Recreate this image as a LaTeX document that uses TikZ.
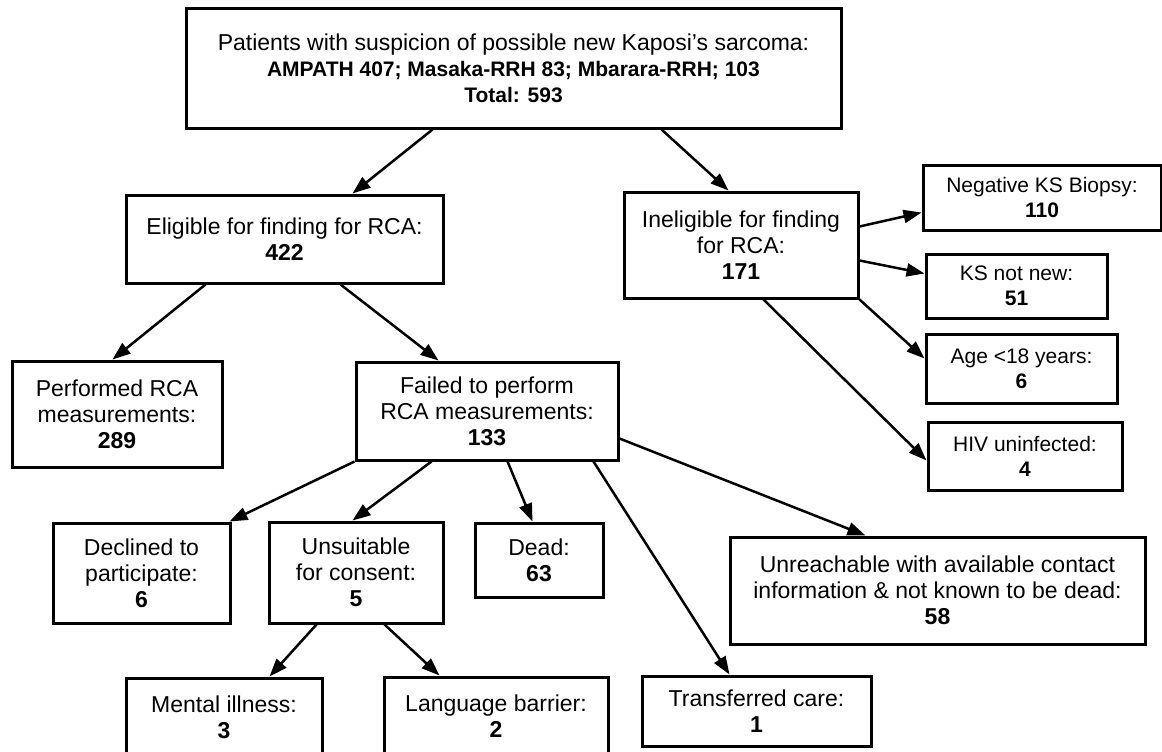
\documentclass[tikz,border=0pt]{standalone}
\usepackage{fontspec}
\setmainfont{Liberation Sans}
\usetikzlibrary{arrows.meta}
\usetikzlibrary{calc}

\begin{document}
\begin{tikzpicture}[x=1pt,y=-1pt]
        \tikzset{flow_box/.style = {draw,line width=3pt,inner sep=0pt,align=center,font=\fontsize{23}{26}\selectfont}}
        \tikzset{side_box/.style = {flow_box,font=\fontsize{21}{25}\selectfont}}
        \tikzset{flow_edge/.style = {->,> = {Triangle[length=18pt,width=13pt]},line width=2.5pt,color=black}}

        \useasboundingbox (0,0) rectangle (1162,752);

        % screening
        \node[flow_box,minimum width=655pt,minimum height=119pt] (top) at (513.5,68.5)
            {Patients with suspicion of possible new Kaposi’s sarcoma:\\{\bfseries\fontsize{21}{26}\selectfont AMPATH 407; Masaka-RRH 83; Mbarara-RRH; 103}\\{\bfseries\fontsize{21}{26}\selectfont Total: 593}};
        \node[flow_box,minimum width=317pt,minimum height=88pt] (elig) at (284.5,239) {Eligible for finding for RCA:\\\textbf{422}};
        \node[flow_box,minimum width=234pt,minimum height=106pt] (inelig) at (741,245) {Ineligible for finding\\for RCA:\\\textbf{171}};

        % reasons for ineligibility
        \node[side_box,minimum width=238pt,minimum height=65pt] (negks) at (1042,197.5) {Negative KS Biopsy:\\\textbf{110}};
        \node[side_box,minimum width=181pt,minimum height=64pt] (notnew) at (1016.5,286) {KS not new:\\\textbf{51}};
        \node[side_box,minimum width=191pt,minimum height=69pt] (age) at (1021.5,368.5) {Age <18 years:\\\textbf{6}};
        \node[side_box,minimum width=194pt,minimum height=68pt] (hiv) at (1025,456) {HIV uninfected:\\\textbf{4}};

        % RCA measurements
        \node[flow_box,minimum width=210pt,minimum height=106pt] (perf) at (117,414) {Performed RCA\\measurements:\\\textbf{289}};
        \node[flow_box,minimum width=262pt,minimum height=98pt] (fail) at (487,411) {Failed to perform\\RCA measurements:\\\textbf{133}};

        % reasons for failure
        \node[flow_box,minimum width=177pt,minimum height=100pt] (decl) at (141.5,573) {Declined to\\participate:\\\textbf{6}};
        \node[flow_box,minimum width=174pt,minimum height=101pt] (unsuit) at (356,572.5) {Unsuitable\\for consent:\\\textbf{5}};
        \node[flow_box,minimum width=128pt,minimum height=74pt] (dead) at (539,560) {Dead:\\\textbf{63}};
        \node[flow_box,minimum width=415pt,minimum height=107pt] (unreach) at (937.5,590.5) {Unreachable with available contact\\information \& not known to be dead:\\\textbf{58}};
        \node[flow_box,minimum width=196pt,minimum height=78pt] (mental) at (224,717) {Mental illness:\\\textbf{3}};
        \node[flow_box,minimum width=224pt,minimum height=79pt] (lang) at (496,716.5) {Language barrier:\\\textbf{2}};
        \node[flow_box,minimum width=229pt,minimum height=70pt] (transf) at (756.5,711) {Transferred care:\\\textbf{1}};

        \draw[flow_edge] ($(top.south west)+(248,0)$) -- ($(elig.north west)+(228,0)$);
        \draw[flow_edge] ($(top.south west)+(477,0)$) -- ($(inelig.north west)+(106,0)$);
        \draw[flow_edge] ($(elig.south west)+(81,0)$) -- ($(perf.north west)+(102,0)$);
        \draw[flow_edge] ($(elig.south west)+(216,0)$) -- ($(fail.north west)+(84,0)$);

        \draw[flow_edge] ($(inelig.north east)+(0,36)$) -- ($(negks.north west)+(0,49)$);
        \draw[flow_edge] ($(inelig.north east)+(0,70)$) -- ($(notnew.north west)+(0,21)$);
        \draw[flow_edge] (inelig.south east) -- ($(age.north west)+(0,26)$);
        \draw[flow_edge] ($(inelig.south west)+(141,0)$) -- ($(hiv.north west)+(0,40)$);

        \draw[flow_edge] (fail.south west) -- ($(decl.north east)+(-2,0)$);
        \draw[flow_edge] ($(fail.south west)+(77,0)$) -- ($(unsuit.north west)+(85,0)$);
        \draw[flow_edge] ($(fail.south west)+(153,0)$) -- ($(dead.north west)+(59,0)$);
        \draw[flow_edge] ($(fail.south west)+(239,0)$) -- ($(transf.north west)+(89,0)$);
        \draw[flow_edge] ($(fail.south east)+(0,-23)$) -- ($(unreach.north west)+(137,0)$);

        \draw[flow_edge] ($(unsuit.south west)+(49,0)$) -- ($(mental.north west)+(145,0)$);
        \draw[flow_edge] ($(unsuit.south west)+(117,0)$) -- ($(lang.north west)+(57,0)$);
\end{tikzpicture}
\end{document}
